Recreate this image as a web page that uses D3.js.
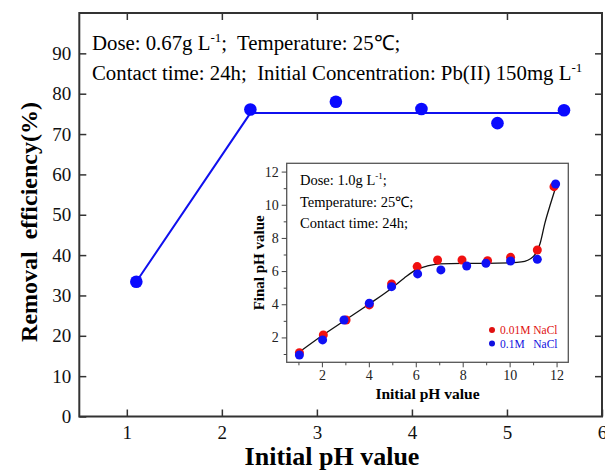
<!DOCTYPE html>
<html>
<head>
<meta charset="utf-8">
<script src="https://cdn.jsdelivr.net/npm/d3@7"></script>
<style>
  body { margin: 0; background: #fff; }
  svg { display: block; }
  text { font-family: "Liberation Serif", "Times New Roman", serif; }
</style>
</head>
<body>
<script>
// main plot: removal efficiency vs initial pH
const phMain = [1.1, 2.3, 3.2, 4.1, 4.9, 5.6];
const removal = [33.4, 76.1, 78.0, 76.2, 72.7, 75.9];
const trendX = [1.1, 2.3, 5.6];
const trendY = [33.4, 75.2, 75.2];
const mainYTicks = [0, 10, 20, 30, 40, 50, 60, 70, 80, 90];
const mainXTicks = [1, 2, 3, 4, 5, 6];

// inset: final pH vs initial pH
const initRed = [1.04, 2.06, 3.03, 4.02, 4.97, 6.06, 6.93, 7.97, 9.06, 10.04, 11.18, 11.89];
const finalRed = [1.08, 2.15, 3.05, 3.96, 5.22, 6.27, 6.67, 6.67, 6.63, 6.83, 7.27, 11.09];
const initBlue = [1.04, 2.03, 2.94, 4.02, 4.97, 6.08, 7.07, 8.17, 8.99, 10.04, 11.18, 11.96];
const finalBlue = [0.94, 1.85, 3.05, 4.06, 5.06, 5.83, 6.07, 6.31, 6.47, 6.61, 6.71, 11.25];
const curveX = [1.04, 2, 3, 4, 5, 5.5, 6, 6.5, 7, 8, 9, 10, 10.5, 11, 11.3, 11.5, 11.75, 11.95];
const curveY = [1.12, 2.1, 3.05, 4.0, 5.0, 5.57, 6.07, 6.31, 6.43, 6.47, 6.47, 6.5, 6.55, 6.87, 7.68, 8.88, 10.09, 10.99];
const insetMajor = [2, 4, 6, 8, 10, 12];
const insetMinor = [1, 3, 5, 7, 9, 11];

const width = 605, height = 472;
const svg = d3.select('body').append('svg')
  .attr('width', width)
  .attr('height', height);

const x = d3.scaleLinear().domain([0.5, 6]).range([79.3, 602]);
const y = d3.scaleLinear().domain([0, 100]).range([416.5, 13]);
const frameColor = '#333';
const nbsp = '\u00a0';

// frame
svg.append('rect')
  .attr('x', x(0.5)).attr('y', y(100))
  .attr('width', x(6) - x(0.5)).attr('height', y(0) - y(100))
  .attr('fill', 'none').attr('stroke', frameColor).attr('stroke-width', 2);

const styleAxis = (g, size) => {
  g.attr('font-family', '"Liberation Serif", serif');
  g.select('.domain').remove();
  g.selectAll('line').attr('stroke', frameColor).attr('stroke-width', 1.5);
  g.selectAll('text').attr('font-size', size).attr('fill', '#111');
};

// all main ticks point inward
svg.append('g')
  .attr('transform', `translate(${x(0.5)},0)`)
  .call(d3.axisLeft(y).tickValues(mainYTicks).tickSizeInner(-7).tickSizeOuter(0).tickPadding(8))
  .call(g => styleAxis(g, 19));

svg.append('g')
  .attr('transform', `translate(0,${y(0)})`)
  .call(d3.axisBottom(x).tickValues(mainXTicks).tickFormat(d3.format('d'))
    .tickSizeInner(-7).tickSizeOuter(0).tickPadding(9))
  .call(g => styleAxis(g, 19));

svg.append('g')
  .attr('transform', `translate(0,${y(100)})`)
  .call(d3.axisTop(x).tickValues([1, 2, 3, 4, 5]).tickSizeInner(-7).tickSizeOuter(0).tickFormat(''))
  .call(g => styleAxis(g, 19));

svg.append('g')
  .attr('transform', `translate(${x(6)},0)`)
  .call(d3.axisRight(y).tickValues(mainYTicks.slice(1)).tickSizeInner(-7).tickSizeOuter(0).tickFormat(''))
  .call(g => styleAxis(g, 19));

// axis titles
svg.append('text')
  .attr('transform', 'rotate(-90)')
  .attr('x', -222).attr('y', 37)
  .attr('text-anchor', 'middle')
  .attr('font-size', 24).attr('font-weight', 'bold')
  .text(`Removal${nbsp} efficiency(%)`);

svg.append('text')
  .attr('x', 332).attr('y', 465)
  .attr('text-anchor', 'middle')
  .attr('font-size', 26).attr('font-weight', 'bold')
  .text('Initial pH value');

// annotations
const note1 = svg.append('text').attr('x', 92).attr('y', 50).attr('font-size', 20.8);
note1.append('tspan').text('Dose: 0.67g L');
note1.append('tspan').attr('dy', -8).attr('font-size', 13).text('-1');
note1.append('tspan').attr('dy', 8).text(`;${nbsp} Temperature: 25\u2103;`);

const note2 = svg.append('text').attr('x', 92).attr('y', 80).attr('font-size', 20.8);
note2.append('tspan').text(`Contact time: 24h;${nbsp} Initial Concentration: Pb(II) 150mg L`);
note2.append('tspan').attr('dy', -8).attr('font-size', 13).text('-1');

// trend line + points
const mainLine = d3.line().x(d => x(d[0])).y(d => y(d[1]));
svg.append('path')
  .datum(trendX.map((v, i) => [v, trendY[i]]))
  .attr('d', mainLine)
  .attr('fill', 'none').attr('stroke', '#1010ee').attr('stroke-width', 2);

svg.append('g').selectAll('circle')
  .data(phMain.map((v, i) => [v, removal[i]]))
  .enter().append('circle')
  .attr('cx', d => x(d[0])).attr('cy', d => y(d[1]))
  .attr('r', 6.3).attr('fill', '#0a0aff');

// ---- inset ----
const ix = d3.scaleLinear().domain([0.5, 12.5]).range([286.7, 568.3]);
const iy = d3.scaleLinear().domain([0.5, 12.5]).range([362.3, 163.3]);
const inset = svg.append('g');

inset.append('rect')
  .attr('x', ix(0.5)).attr('y', iy(12.5))
  .attr('width', ix(12.5) - ix(0.5)).attr('height', iy(0.5) - iy(12.5))
  .attr('fill', '#fff').attr('stroke', '#555').attr('stroke-width', 1.3);

const styleInset = g => {
  g.attr('font-family', '"Liberation Serif", serif');
  g.select('.domain').remove();
  g.selectAll('line').attr('stroke', '#444').attr('stroke-width', 1);
  g.selectAll('text').attr('font-size', 14).attr('fill', '#222');
};

inset.append('g')
  .attr('transform', `translate(0,${iy(0.5)})`)
  .call(d3.axisBottom(ix).tickValues(insetMajor).tickSizeInner(5).tickSizeOuter(0).tickPadding(3))
  .call(styleInset);
inset.append('g')
  .attr('transform', `translate(0,${iy(0.5)})`)
  .call(d3.axisBottom(ix).tickValues(insetMinor).tickSizeInner(3).tickSizeOuter(0).tickFormat(''))
  .call(styleInset);
inset.append('g')
  .attr('transform', `translate(${ix(0.5)},0)`)
  .call(d3.axisLeft(iy).tickValues(insetMajor).tickSizeInner(5).tickSizeOuter(0).tickPadding(3))
  .call(styleInset);
inset.append('g')
  .attr('transform', `translate(${ix(0.5)},0)`)
  .call(d3.axisLeft(iy).tickValues(insetMinor).tickSizeInner(3).tickSizeOuter(0).tickFormat(''))
  .call(styleInset);

inset.append('text')
  .attr('transform', 'rotate(-90)')
  .attr('x', -iy(6.5)).attr('y', 264)
  .attr('text-anchor', 'middle')
  .attr('font-size', 15).attr('font-weight', 'bold')
  .text('Final pH value');

inset.append('text')
  .attr('x', ix(6.5)).attr('y', 399)
  .attr('text-anchor', 'middle')
  .attr('font-size', 15.5).attr('font-weight', 'bold')
  .text('Initial pH value');

const t1 = inset.append('text').attr('x', 300).attr('y', 185).attr('font-size', 14.5);
t1.append('tspan').text('Dose: 1.0g L');
t1.append('tspan').attr('dy', -6).attr('font-size', 9).text('-1');
t1.append('tspan').attr('dy', 6).text(';');
inset.append('text').attr('x', 300).attr('y', 207).attr('font-size', 14.5).text('Temperature: 25\u2103;');
inset.append('text').attr('x', 300).attr('y', 228).attr('font-size', 14.5).text('Contact time: 24h;');

// fit curve
inset.append('path')
  .datum(curveX.map((v, i) => [v, curveY[i]]))
  .attr('d', d3.line().x(d => ix(d[0])).y(d => iy(d[1])).curve(d3.curveMonotoneX))
  .attr('fill', 'none').attr('stroke', '#111').attr('stroke-width', 1.3);

inset.append('g').selectAll('circle')
  .data(initRed.map((v, i) => [v, finalRed[i]]))
  .enter().append('circle')
  .attr('cx', d => ix(d[0])).attr('cy', d => iy(d[1]))
  .attr('r', 4.5).attr('fill', '#f01010');

inset.append('g').selectAll('circle')
  .data(initBlue.map((v, i) => [v, finalBlue[i]]))
  .enter().append('circle')
  .attr('cx', d => ix(d[0])).attr('cy', d => iy(d[1]))
  .attr('r', 4.5).attr('fill', '#1010f5');

// legend
const legend = [
  { label: '0.01M NaCl', color: '#e01010', cy: 330 },
  { label: `0.1M${nbsp}${nbsp}${nbsp}NaCl`, color: '#1010e0', cy: 343.5 }
];
legend.forEach(l => {
  inset.append('circle').attr('cx', 492).attr('cy', l.cy).attr('r', 3).attr('fill', l.color);
  inset.append('text').attr('x', 500).attr('y', l.cy + 4)
    .attr('font-size', 11.5).attr('fill', l.color)
    .text(l.label);
});
</script>
</body>
</html>
